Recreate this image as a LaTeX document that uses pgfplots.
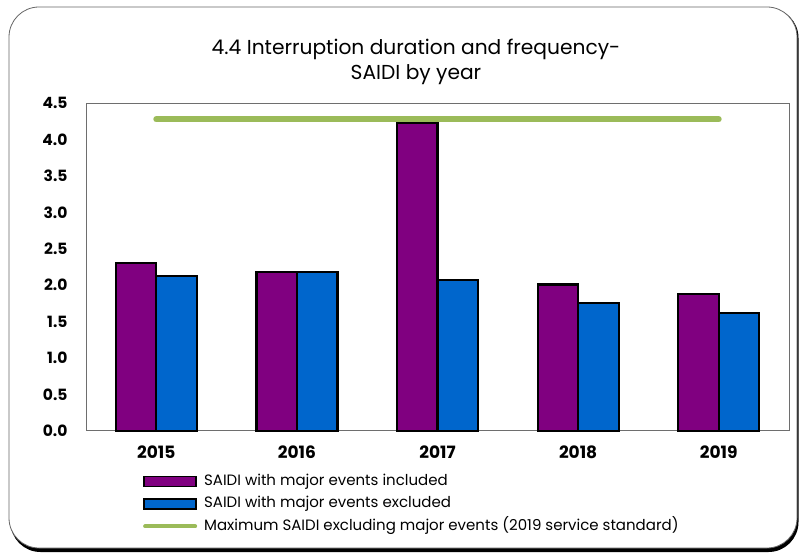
\documentclass[border=0pt]{standalone}
\usepackage{pgfplots}
\pgfplotsset{compat=1.18}
\usepackage{fontspec}
\setmainfont{Poppins}
\definecolor{cPurple}{HTML}{800080}
\definecolor{cBlue}{HTML}{0066CC}
\definecolor{cGreen}{HTML}{9BBB59}
\definecolor{cAxis}{HTML}{6E6E6E}
\pgfplotsset{
  barleg/.style={legend image code/.code={\draw[##1, line width=1.8pt] (0pt,-5pt) rectangle (52pt,5pt);}},
  lineleg/.style={legend image code/.code={\draw[##1, line width=4pt] (1pt,0pt) -- (51pt,0pt);}},
}
\begin{document}
\begin{tikzpicture}[x=1pt,y=1pt]
\path[use as bounding box] (0,0) rectangle (803,555);
% outer frame with shadow
\fill[black,rounded corners=30pt] (10.5,3) rectangle (798.5,547);
\draw[fill=white,draw=gray!80!black,line width=0.8pt,rounded corners=30pt] (9,7) rectangle (797,548);
% title
\node[align=center,font=\fontsize{20.2}{25}\selectfont] at (416,493.5) {4.4 Interruption duration and frequency-\\SAIDI by year};
\begin{axis}[
  at={(86pt,124.3pt)}, anchor=south west,
  scale only axis, width=703pt, height=327.4pt,
  xmin=-0.5, xmax=4.5, ymin=0, ymax=4.5,
  xtick={0,1,2,3,4}, xticklabels={2015,2016,2017,2018,2019},
  ytick={0,0.5,1,1.5,2,2.5,3,3.5,4,4.5},
  yticklabel style={/pgf/number format/fixed,/pgf/number format/fixed zerofill,/pgf/number format/precision=1,xshift=-15pt},
  /pgf/number format/assume math mode=true,
  tick label style={font=\fontsize{15.5}{17}\selectfont\bfseries},
  xticklabel style={yshift=-12pt, font=\fontsize{17}{19}\selectfont\bfseries},
  major tick length=0pt,
  axis line style={cAxis, line width=0.8pt},
  clip=false,
  legend style={at={(0.081,-0.127)}, anchor=north west, draw=none, fill=none,
    font=\fontsize{15}{17}\selectfont, inner sep=0pt, row sep=4.5pt,
    nodes={text height=11pt, text depth=3pt},
    legend cell align=left, /tikz/every odd column/.append style={column sep=5pt}},
]
\addplot[ybar, bar width=40.5pt, bar shift=-20.25pt, fill=cPurple, draw=black, line width=2.2pt, barleg]
  coordinates {(0,2.31) (1,2.18) (2,4.23) (3,2.01) (4,1.88)};
\addlegendentry{SAIDI with major events included}
\addplot[ybar, bar width=40.5pt, bar shift=20.25pt, fill=cBlue, draw=black, line width=2.2pt, barleg]
  coordinates {(0,2.13) (1,2.18) (2,2.07) (3,1.75) (4,1.62)};
\addlegendentry{SAIDI with major events excluded}
\addplot[sharp plot, cGreen, line width=6pt, line cap=round, mark=none, lineleg]
  coordinates {(0,4.28) (4,4.28)};
\addlegendentry{Maximum SAIDI excluding major events (2019 service standard)}
\end{axis}
\end{tikzpicture}
\end{document}
